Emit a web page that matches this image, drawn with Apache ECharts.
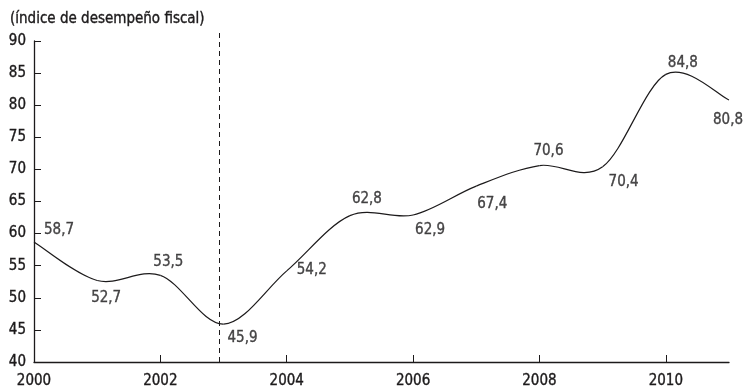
<!DOCTYPE html>
<html>
<head>
<meta charset="utf-8">
<script src="https://cdn.jsdelivr.net/npm/echarts@6/dist/echarts.min.js"></script>
<style>
  html, body { margin: 0; padding: 0; background: #fff; }
  #chart { width: 748px; height: 392px; }
</style>
</head>
<body>
<div id="chart"></div>
<script>
// Índice de desempeño fiscal, 2000–2011
const years = [2000, 2001, 2002, 2003, 2004, 2005, 2006, 2007, 2008, 2009, 2010, 2011];
const indexValues = [58.7, 52.7, 53.5, 45.9, 54.2, 62.8, 62.9, 67.4, 70.6, 70.4, 84.8, 80.8];
const xTickYears = [2000, 2002, 2004, 2006, 2008, 2010];
const yTicks = [40, 45, 50, 55, 60, 65, 70, 75, 80, 85, 90];
const breakYear = 2002.93;
const yAxisTitle = '(índice de desempeño fiscal)';

// label placement (dx, dy from the point) for each value tag
const labelOffsets = [
  [25, -12], [9, 18], [8, -13], [19, 14], [25, -1], [17, -17],
  [17, 15], [16, 18], [9, -14], [21, 15], [17, -11], [-1, 20]
];

const ink = '#1c1a1b';
const font = '"DejaVu Sans Condensed", "Liberation Sans", sans-serif';
const fs = 15;
const textBase = {
  color: ink,
  fontFamily: font,
  fontSize: fs,
  textBorderColor: ink,
  textBorderWidth: 0.35
};

const chart = echarts.init(document.getElementById('chart'), null, { renderer: 'canvas' });

const points = years.map((y, i) => [y, indexValues[i]]);

// Catmull-Rom segment between point i and i+1, in pixel space
function renderSegment(params, api) {
  const i = params.dataIndex;
  const n = points.length;
  if (i >= n - 1) return null;
  const p0 = api.coord(points[Math.max(i - 1, 0)]);
  const p1 = api.coord(points[i]);
  const p2 = api.coord(points[i + 1]);
  const p3 = api.coord(points[Math.min(i + 2, n - 1)]);
  return {
    type: 'bezierCurve',
    shape: {
      x1: p1[0], y1: p1[1],
      x2: p2[0], y2: p2[1],
      cpx1: p1[0] + (p2[0] - p0[0]) / 6,
      cpy1: p1[1] + (p2[1] - p0[1]) / 6,
      cpx2: p2[0] - (p3[0] - p1[0]) / 6,
      cpy2: p2[1] - (p3[1] - p1[1]) / 6
    },
    style: { stroke: ink, lineWidth: 1.2, fill: null }
  };
}

const labelData = points.map((p, i) => ({
  value: p,
  label: Object.assign({
    show: true,
    position: 'inside',
    align: 'center',
    verticalAlign: 'middle',
    offset: labelOffsets[i],
    formatter: () => indexValues[i].toFixed(1).replace('.', ',')
  }, textBase)
}));

chart.setOption({
  animation: false,
  backgroundColor: '#ffffff',
  title: {
    text: yAxisTitle,
    left: 5,
    top: 7,
    textStyle: Object.assign({ fontWeight: 'normal' }, textBase)
  },
  grid: [
    { left: 34, right: 19, top: 41, bottom: 30 },
    { left: 34, right: 19, top: 32, bottom: 30 }
  ],
  xAxis: [
    {
      type: 'value',
      gridIndex: 0,
      min: 2000,
      max: 2011,
      interval: 2,
      splitLine: { show: false },
      axisLine: { show: true, lineStyle: { color: ink, width: 1.3 } },
      axisTick: { show: true, inside: true, length: 7, customValues: xTickYears, lineStyle: { color: ink, width: 1 } },
      axisLabel: Object.assign({ customValues: xTickYears, margin: 12, formatter: v => String(v) }, textBase)
    },
    { type: 'value', gridIndex: 1, min: 2000, max: 2011, show: false }
  ],
  yAxis: [
    {
      type: 'value',
      gridIndex: 0,
      min: 40,
      max: 90,
      interval: 5,
      splitLine: { show: false },
      axisLine: { show: true, lineStyle: { color: ink, width: 1.3 } },
      axisTick: { show: true, inside: true, length: 7, customValues: yTicks, lineStyle: { color: ink, width: 1 } },
      axisLabel: Object.assign({ customValues: yTicks, margin: 8 }, textBase)
    },
    { type: 'value', gridIndex: 1, min: 0, max: 1, show: false }
  ],
  series: [
    {
      type: 'custom',
      xAxisIndex: 0,
      yAxisIndex: 0,
      data: points,
      renderItem: renderSegment,
      clip: false,
      silent: true,
      z: 3
    },
    {
      type: 'scatter',
      xAxisIndex: 0,
      yAxisIndex: 0,
      data: labelData,
      symbolSize: 1,
      itemStyle: { color: 'rgba(0,0,0,0)' },
      silent: true,
      z: 4
    },
    {
      // vertical dashed break marker spanning the taller helper grid
      type: 'line',
      xAxisIndex: 1,
      yAxisIndex: 1,
      data: [],
      markLine: {
        silent: true,
        symbol: ['none', 'none'],
        label: { show: false },
        lineStyle: { color: ink, type: [5, 4], width: 1 },
        data: [{ xAxis: breakYear }]
      }
    }
  ]
});
</script>
</body>
</html>
